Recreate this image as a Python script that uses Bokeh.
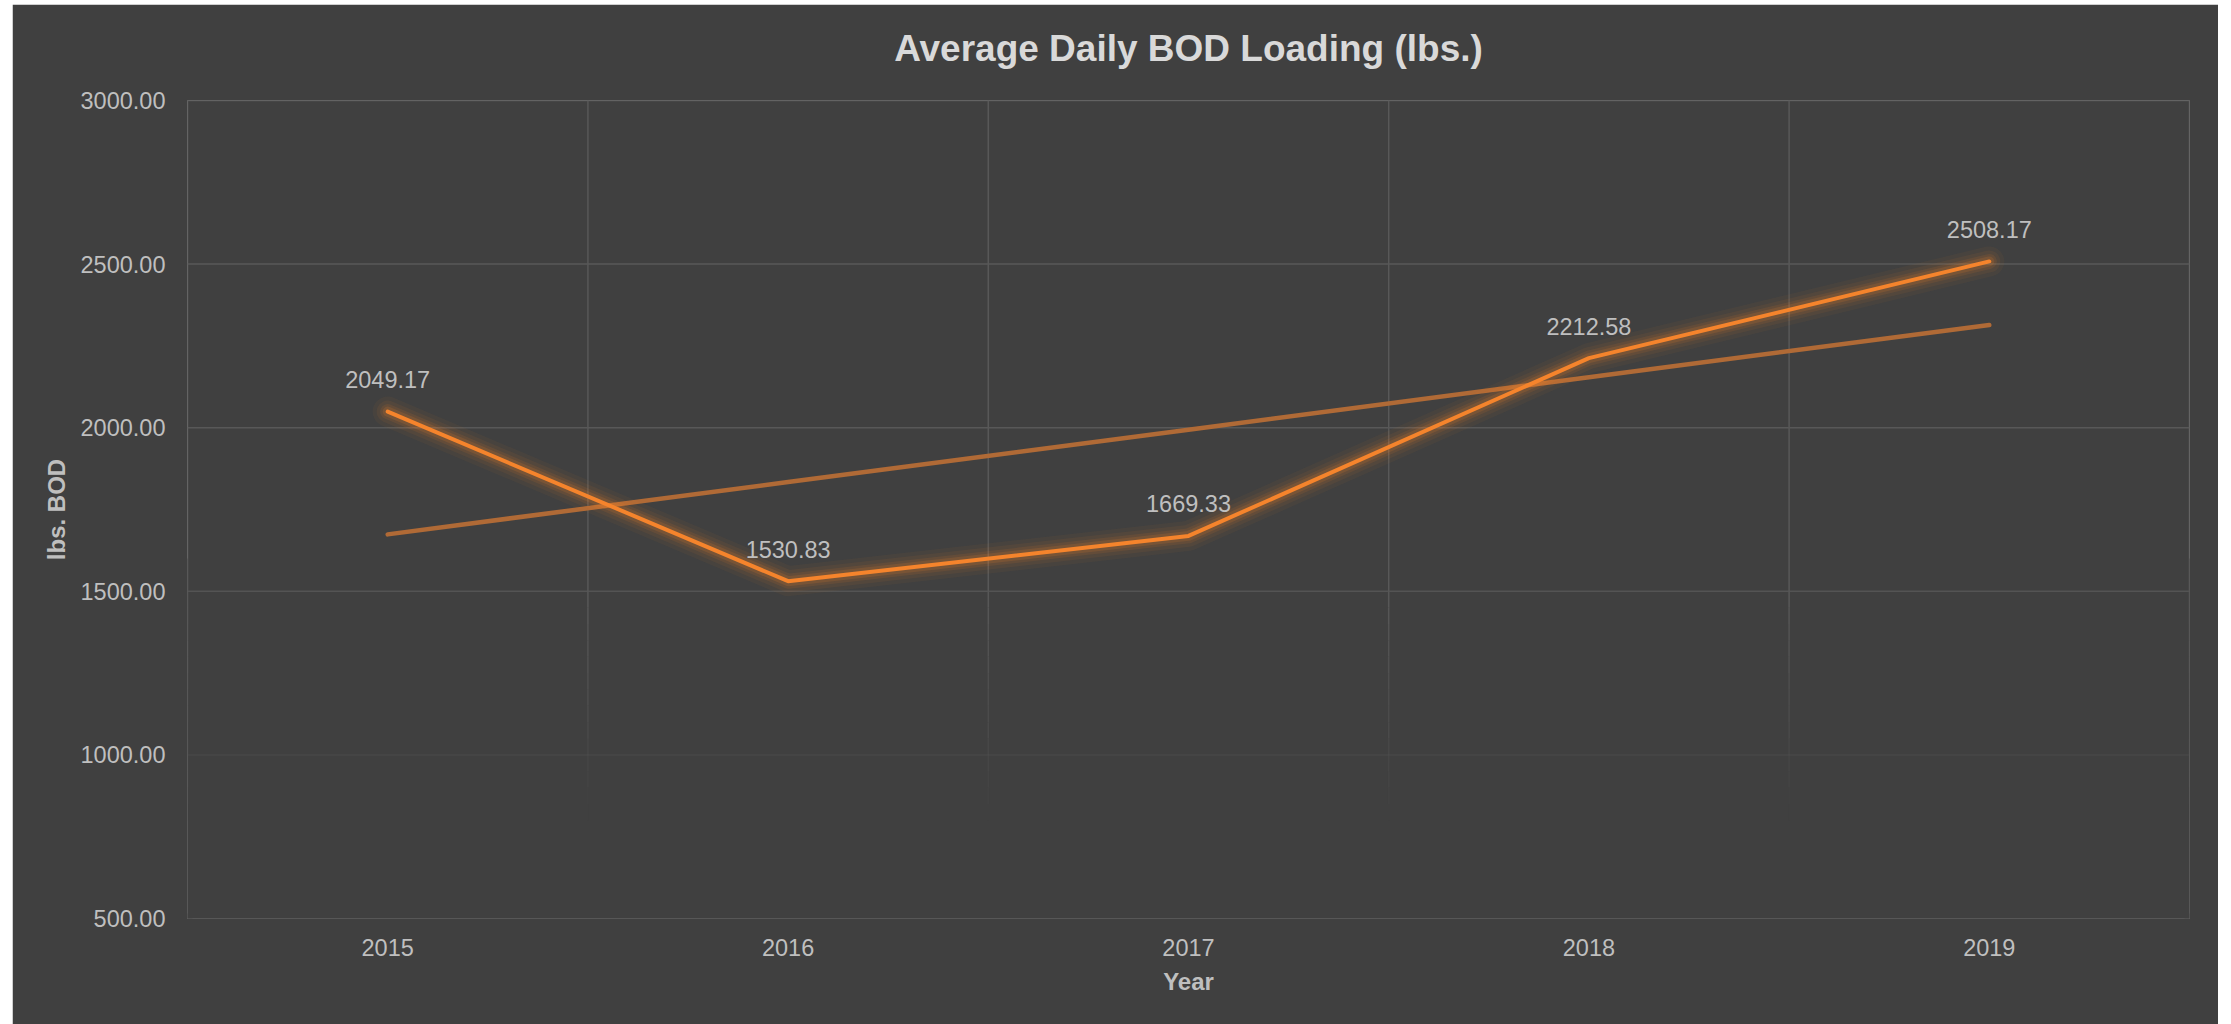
from bokeh.plotting import figure
from bokeh.models import Range1d, FixedTicker, PrintfTickFormatter, Title
from bokeh.core.properties import value
from bokeh.embed import file_html
from bokeh.resources import INLINE

# ---- data ----
years = [2015, 2016, 2017, 2018, 2019]
bod = [2049.17, 1530.83, 1669.33, 2212.58, 2508.17]
bod_labels = ["2049.17", "1530.83", "1669.33", "2212.58", "2508.17"]
trend = [1674.0, 1834.0, 1994.0, 2154.0, 2314.0]   # linear trendline as read
y_ticks = [500, 1000, 1500, 2000, 2500, 3000]
title_text = "Average Daily BOD Loading (lbs.)"
x_title = "Year"
y_title = "lbs. BOD"

BG = "#404040"
GRID = "#585858"
ORANGE = "#F5842C"
TREND = "#B06A36"
TXT = "#BFBFBF"
FONT = "Liberation Sans"

W, H = 2206, 1020

p = figure(width=W, height=H, output_backend="svg", toolbar_location=None,
           x_range=Range1d(years[0] - 0.5, years[-1] + 0.5),
           y_range=Range1d(y_ticks[0], y_ticks[-1]),
           min_border_left=175, min_border_right=29,
           min_border_top=96, min_border_bottom=106,
           outline_line_color=None)
p.styles = {"margin-left": "12px", "margin-top": "4px"}
p.background_fill_color = BG
p.border_fill_color = BG
p.outline_line_color = None
p.outline_line_alpha = 0
p.outline_line_width = 0
p.grid.visible = False

t = Title(text=title_text, align="center", text_font=FONT, text_font_size="37px",
          text_font_style="bold", text_color="#D9D9D9", standoff=32)
p.title = t
# spacer between the frame and the title
p.add_layout(Title(text=" ", text_font_size="2px", text_color=BG, standoff=12), "above")

# axes
for ax in (p.xaxis[0], p.yaxis[0]):
    ax.axis_line_color = None
    ax.axis_line_alpha = 0
    ax.major_tick_line_color = None
    ax.minor_tick_line_color = None
    ax.major_label_text_color = TXT
    ax.major_label_text_font = FONT
    ax.major_label_text_font_size = "23.5px"
    ax.axis_label_text_color = TXT
    ax.axis_label_text_font = FONT
    ax.axis_label_text_font_size = "24px"
    ax.axis_label_text_font_style = "bold"
p.xaxis.ticker = FixedTicker(ticks=years)
p.yaxis.ticker = FixedTicker(ticks=y_ticks)
p.yaxis.formatter = PrintfTickFormatter(format="%.2f")
p.yaxis.major_label_standoff = 16
p.xaxis.major_label_standoff = 14
p.xaxis.axis_label = x_title
p.yaxis.axis_label = y_title
p.xaxis.axis_label_standoff = 9
p.yaxis.axis_label_standoff = 8

x_lo, x_hi = years[0] - 0.5, years[-1] + 0.5

# cover any frame edge line in the lower part of the plot area
p.segment(x0=[x_lo, x_hi, x_lo], x1=[x_lo, x_hi, x_hi],
          y0=[1600, 1600, y_ticks[0]], y1=[y_ticks[0], y_ticks[0], y_ticks[0]],
          line_color=BG, line_width=10)

# horizontal gridlines (fading toward the bottom)
h_alpha = {3000: 1.0, 2500: 1.0, 2000: 1.0, 1500: 0.85, 1000: 0.3}
for lvl, a in h_alpha.items():
    p.segment(x0=[x_lo], x1=[x_hi], y0=[lvl], y1=[lvl],
              line_color=GRID, line_width=1.5, line_alpha=a)

# vertical gridlines at category boundaries, fading out
bounds = [y - 0.5 for y in years] + [x_hi]
p.segment(x0=bounds, x1=bounds, y0=[3000] * len(bounds), y1=[1500] * len(bounds),
          line_color=GRID, line_width=1.5)
steps = 14
top, bottom = 1500, 800
for i in range(steps):
    ya = top - (top - bottom) * i / steps
    yb = top - (top - bottom) * (i + 1) / steps
    a = 1.0 - (i + 0.5) / steps
    p.segment(x0=bounds, x1=bounds, y0=[ya] * len(bounds), y1=[yb] * len(bounds),
              line_color=GRID, line_width=1.5, line_alpha=a)

# trendline
p.line(years, trend, line_color=TREND, line_width=4.5, line_cap="round")

# glow for main series
for w, a in [(30, 0.05), (22, 0.07), (15, 0.10), (10, 0.14)]:
    p.line(years, bod, line_color=ORANGE, line_width=w, line_alpha=a,
           line_join="round", line_cap="round")
p.line(years, bod, line_color=ORANGE, line_width=4, line_join="round", line_cap="round")

# data labels
p.text(x=years, y=bod, text=bod_labels, text_align="center", text_baseline="middle",
       y_offset=-32, text_color=TXT, text_font=value(FONT), text_font_size="23.5px")

open("out.html", "w").write(file_html(p, INLINE))
